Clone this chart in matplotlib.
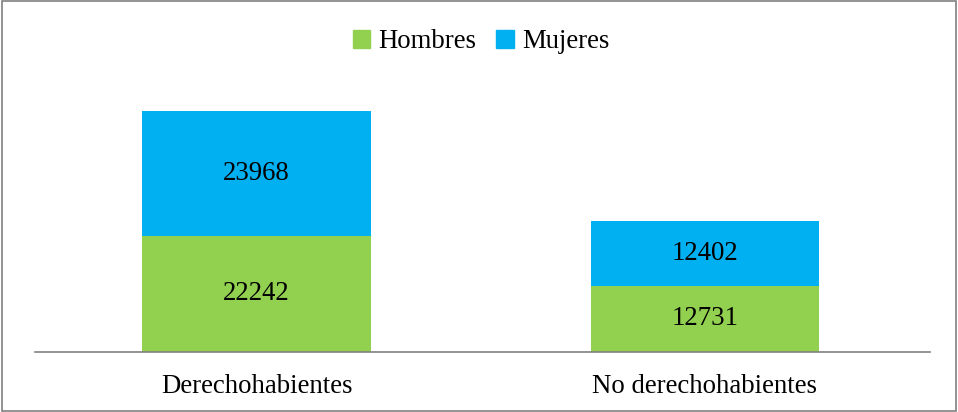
import numpy as np
import matplotlib.pyplot as plt
from matplotlib.patches import Patch

plt.rcParams['font.family'] = ['Liberation Serif', 'DejaVu Serif']

categorias = ['Derechohabientes', 'No derechohabientes']
hombres = [22242, 12731]
mujeres = [23968, 12402]

verde = '#92D050'
azul = '#00B0F0'
fs = 19.3

fig = plt.figure(figsize=(9.58, 4.12), dpi=100)
ax = fig.add_axes([35/958, 60/412, 895/958, 260.8/412])

x = np.arange(len(categorias))
ancho = 0.51
ax.bar(x, hombres, ancho, color=verde, label='Hombres')
ax.bar(x, mujeres, ancho, bottom=hombres, color=azul, label='Mujeres')

for i in range(len(categorias)):
    ax.text(x[i], hombres[i] / 2, str(hombres[i]), ha='center', va='center', fontsize=fs)
    ax.text(x[i], hombres[i] + mujeres[i] / 2, str(mujeres[i]), ha='center', va='center', fontsize=fs)

ax.set_xlim(-0.494, 1.502)
ax.set_ylim(0, 50000)
ax.set_yticks([])
ax.set_xticks(x)
ax.set_xticklabels(categorias, fontsize=fs)
ax.tick_params(axis='x', length=0, pad=16)
for lado in ['top', 'right', 'left']:
    ax.spines[lado].set_visible(False)
ax.spines['bottom'].set_color('#808080')
ax.spines['bottom'].set_linewidth(1.2)

manijas = [Patch(color=verde), Patch(color=azul)]
fig.legend(manijas, ['Hombres', 'Mujeres'], loc='center', bbox_to_anchor=(481/958, 1 - 42/412),
           ncol=2, frameon=False, fontsize=fs, handlelength=0.65, handleheight=0.65,
           handletextpad=0.3, columnspacing=0.75)

# borde de la figura
fig.patches.append(plt.Rectangle((0.002, 0.002), 0.996, 0.996, transform=fig.transFigure,
                                 fill=False, edgecolor='#808080', linewidth=1.2))

fig.savefig('out.png', dpi=100)
